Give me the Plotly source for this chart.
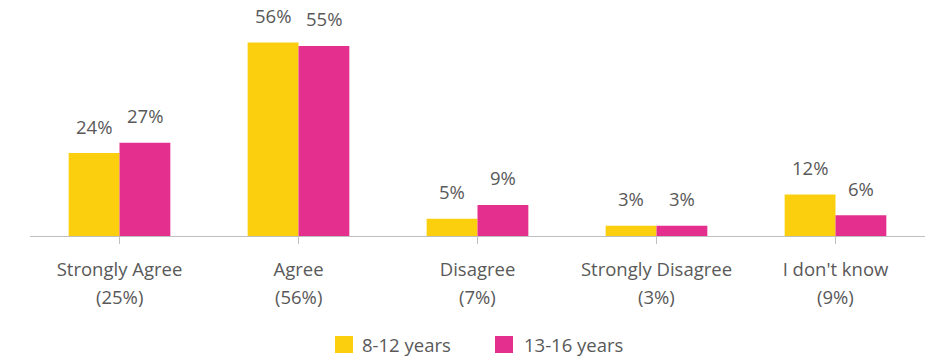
import plotly.graph_objects as go

categories = ["Strongly Agree", "Agree", "Disagree", "Strongly Disagree", "I don't know"]
overall = [25, 56, 7, 3, 9]
ages_8_12 = [24, 56, 5, 3, 12]
ages_13_16 = [27, 55, 9, 3, 6]
series_names = ["8-12 years", "13-16 years"]
series_colors = ["#FCCF0E", "#E52F8E"]

W, H = 926, 361
M_L, M_R, M_T, M_B = 30, 1, 10, 125
BARGAP = 0.432
FONT = "Open Sans"
TEXT = "#595959"
FS = 18.5

x_idx = list(range(len(categories)))

fig = go.Figure()
for name, vals, col in zip(series_names, [ages_8_12, ages_13_16], series_colors):
    fig.add_bar(x=x_idx, y=vals, name=name, marker=dict(color=col, line=dict(width=0)),
                showlegend=False, hoverinfo="skip")

pw = W - M_L - M_R
ph = H - M_T - M_B
def px2paper_x(px):
    return (px - M_L) / pw
def px2paper_y(py):
    return (H - M_B - py) / ph

# value labels above each bar
off = (1 - BARGAP) / 4
annotations = []
for k, vals in enumerate([ages_8_12, ages_13_16]):
    sign = -1 if k == 0 else 1
    for i, v in enumerate(vals):
        annotations.append(dict(x=i + sign * off, y=v, xref="x", yref="y", text=f"{v}%",
                                showarrow=False, yanchor="middle", yshift=27,
                                font=dict(family=FONT, size=FS, color=TEXT)))

# overall share shown under each category name
for i, o in enumerate(overall):
    annotations.append(dict(x=i, y=px2paper_y(296), xref="x", yref="paper", text=f"({o}%)",
                            showarrow=False, yanchor="middle",
                            font=dict(family=FONT, size=FS, color=TEXT)))

# legend drawn below the axis
shapes = []
legend_items = [(335, 360), (495, 522)]
for (sx, tx), name, col in zip(legend_items, series_names, series_colors):
    shapes.append(dict(type="rect", xref="paper", yref="paper",
                       x0=px2paper_x(sx), x1=px2paper_x(sx + 18),
                       y0=px2paper_y(336), y1=px2paper_y(353),
                       fillcolor=col, line=dict(width=0)))
    annotations.append(dict(x=px2paper_x(tx), y=px2paper_y(344), xref="paper", yref="paper",
                            text=name, showarrow=False, xanchor="left", yanchor="middle",
                            font=dict(family=FONT, size=FS, color=TEXT)))

fig.update_layout(
    width=W, height=H,
    margin=dict(l=M_L, r=M_R, t=M_T, b=M_B, pad=0),
    paper_bgcolor="white", plot_bgcolor="white",
    barmode="group", bargap=BARGAP, bargroupgap=0,
    showlegend=False,
    annotations=annotations, shapes=shapes,
    xaxis=dict(tickmode="array", tickvals=x_idx, ticktext=categories,
               range=[-0.5, len(categories) - 0.5],
               showline=True, linecolor="#BFBFBF", linewidth=1,
               ticks="outside", tickson="boundaries", ticklen=7, tickcolor="#BFBFBF",
               ticklabelstandoff=10,
               showgrid=False, zeroline=False,
               tickfont=dict(family=FONT, size=FS, color=TEXT)),
    yaxis=dict(range=[0, 65.4], visible=False, showgrid=False, zeroline=False),
)

fig.write_html("out.html")
